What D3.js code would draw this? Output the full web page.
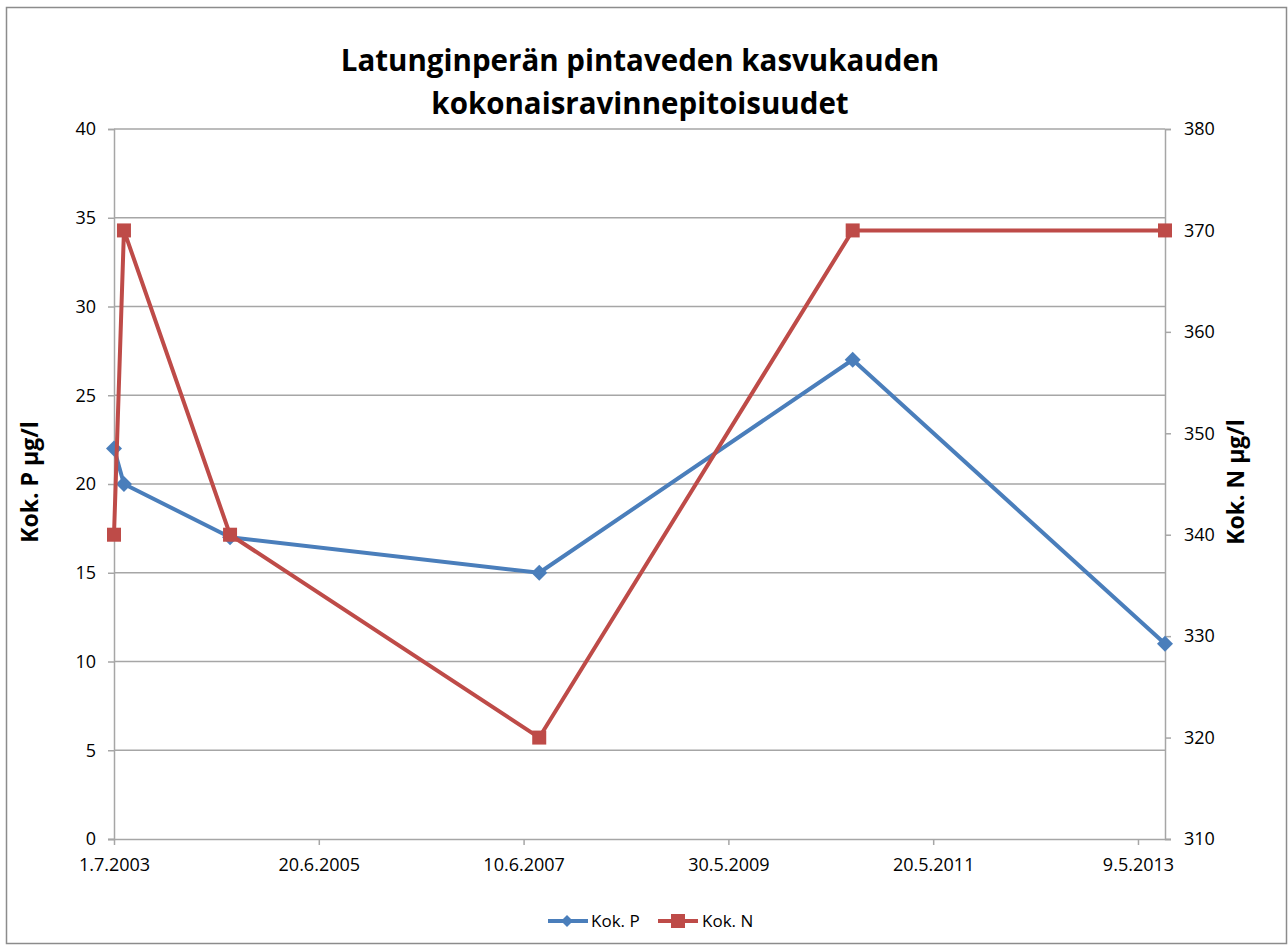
<!DOCTYPE html>
<html>
<head>
<meta charset="utf-8">
<script src="https://cdn.jsdelivr.net/npm/d3@7"></script>
<style>
  body { margin: 0; background: #fff; }
  svg text { font-family: "Open Sans", "Noto Sans", sans-serif; fill: #000; }
</style>
</head>
<body>
<div id="chart"></div>
<script>
// sample dates and values
const dates = ["2003-07-01", "2003-08-05", "2004-08-12", "2007-08-04", "2010-08-10", "2013-08-12"];
const kokP = [22, 20, 17, 15, 27, 11];
const kokN = [340, 370, 340, 320, 370, 370];
const xTicks = ["2003-07-01", "2005-06-20", "2007-06-10", "2009-05-30", "2011-05-20", "2013-05-09"];
const leftTicks = [0, 5, 10, 15, 20, 25, 30, 35, 40];
const rightTicks = [310, 320, 330, 340, 350, 360, 370, 380];

let width = 1288, height = 948;
let pLeft = 114, pRight = 1165, pTop = 129, pBottom = 839;
let blue = "#4a7ebb", red = "#be4b48";

let parse = d3.utcParse("%Y-%m-%d");
let fmt = d3.utcFormat("%-d.%-m.%Y");

let svg = d3.select("#chart").append("svg")
    .attr("width", width)
    .attr("height", height);

// outer frame
svg.append("rect")
    .attr("x", 6.5).attr("y", 7.5)
    .attr("width", 1280).attr("height", 936)
    .attr("fill", "#fff")
    .attr("stroke", "#8c8c8c")
    .attr("stroke-width", 1.5);

let x = d3.scaleUtc()
    .domain([parse(dates[0]), parse(dates[dates.length - 1])])
    .range([pLeft, pRight]);
let yL = d3.scaleLinear().domain([0, 40]).range([pBottom, pTop]);
let yR = d3.scaleLinear().domain([310, 380]).range([pBottom, pTop]);

// gridlines
svg.append("g")
    .selectAll("line")
    .data(leftTicks.slice(1))
    .join("line")
    .attr("x1", pLeft).attr("x2", pRight)
    .attr("y1", d => yL(d)).attr("y2", d => yL(d))
    .attr("stroke", "#a6a6a6")
    .attr("stroke-width", 1.3);

// left axis
let axL = svg.append("g")
    .attr("transform", `translate(${pLeft},0)`)
    .call(d3.axisLeft(yL).tickValues(leftTicks).tickSize(6).tickPadding(12));
// right axis
let axR = svg.append("g")
    .attr("transform", `translate(${pRight},0)`)
    .call(d3.axisRight(yR).tickValues(rightTicks).tickSize(6).tickPadding(13));
// bottom axis
let axB = svg.append("g")
    .attr("transform", `translate(0,${pBottom})`)
    .call(d3.axisBottom(x).tickValues(xTicks.map(parse)).tickFormat(fmt).tickSize(6).tickPadding(13));

[axL, axR, axB].forEach(function(a){
    a.select(".domain").attr("stroke", "#a6a6a6").attr("stroke-width", 1.5);
    a.selectAll(".tick line").attr("stroke", "#a6a6a6").attr("stroke-width", 1.5);
    a.selectAll(".tick text").style("font-size", "18px").attr("fill", "#000");
});
axB.select(".domain").attr("d", `M${pLeft - 6},0.5H${pRight + 6}`);

// lines
let pPts = dates.map((d, i) => [x(parse(d)), yL(kokP[i])]);
let nPts = dates.map((d, i) => [x(parse(d)), yR(kokN[i])]);
let line = d3.line();

svg.append("path")
    .attr("d", line(pPts))
    .attr("fill", "none")
    .attr("stroke", blue)
    .attr("stroke-width", 4)
    .attr("stroke-linejoin", "round");

svg.append("g")
    .selectAll("path")
    .data(pPts)
    .join("path")
    .attr("transform", d => `translate(${d[0]},${d[1]})`)
    .attr("d", "M0,-8L8,0L0,8L-8,0Z")
    .attr("fill", blue);

svg.append("path")
    .attr("d", line(nPts))
    .attr("fill", "none")
    .attr("stroke", red)
    .attr("stroke-width", 4)
    .attr("stroke-linejoin", "round");

svg.append("g")
    .selectAll("rect")
    .data(nPts)
    .join("rect")
    .attr("x", d => d[0] - 7).attr("y", d => d[1] - 7)
    .attr("width", 14).attr("height", 14)
    .attr("fill", red);

// titles
svg.append("text")
    .attr("x", 640).attr("y", 71)
    .attr("text-anchor", "middle")
    .style("font-size", "29.5px").style("font-weight", "bold")
    .text("Latunginperän pintaveden kasvukauden");
svg.append("text")
    .attr("x", 640).attr("y", 114)
    .attr("text-anchor", "middle")
    .style("font-size", "29.5px").style("font-weight", "bold")
    .text("kokonaisravinnepitoisuudet");

svg.append("text")
    .attr("transform", "translate(38,482) rotate(-90)")
    .attr("text-anchor", "middle")
    .style("font-size", "23px").style("font-weight", "bold")
    .text("Kok. P µg/l");
svg.append("text")
    .attr("transform", "translate(1244,482) rotate(-90)")
    .attr("text-anchor", "middle")
    .style("font-size", "23px").style("font-weight", "bold")
    .text("Kok. N µg/l");

// legend
let lg = svg.append("g").attr("transform", "translate(0,921)");
lg.append("line").attr("x1", 548).attr("x2", 588).attr("stroke", blue).attr("stroke-width", 4);
lg.append("path").attr("transform", "translate(567,0)").attr("d", "M0,-6L6,0L0,6L-6,0Z").attr("fill", blue);
lg.append("text").attr("x", 591).attr("y", 6).style("font-size", "17px").text("Kok. P");
lg.append("line").attr("x1", 658).attr("x2", 698).attr("stroke", red).attr("stroke-width", 4);
lg.append("rect").attr("x", 671).attr("y", -7).attr("width", 14).attr("height", 14).attr("fill", red);
lg.append("text").attr("x", 702).attr("y", 6).style("font-size", "17px").text("Kok. N");
</script>
</body>
</html>
